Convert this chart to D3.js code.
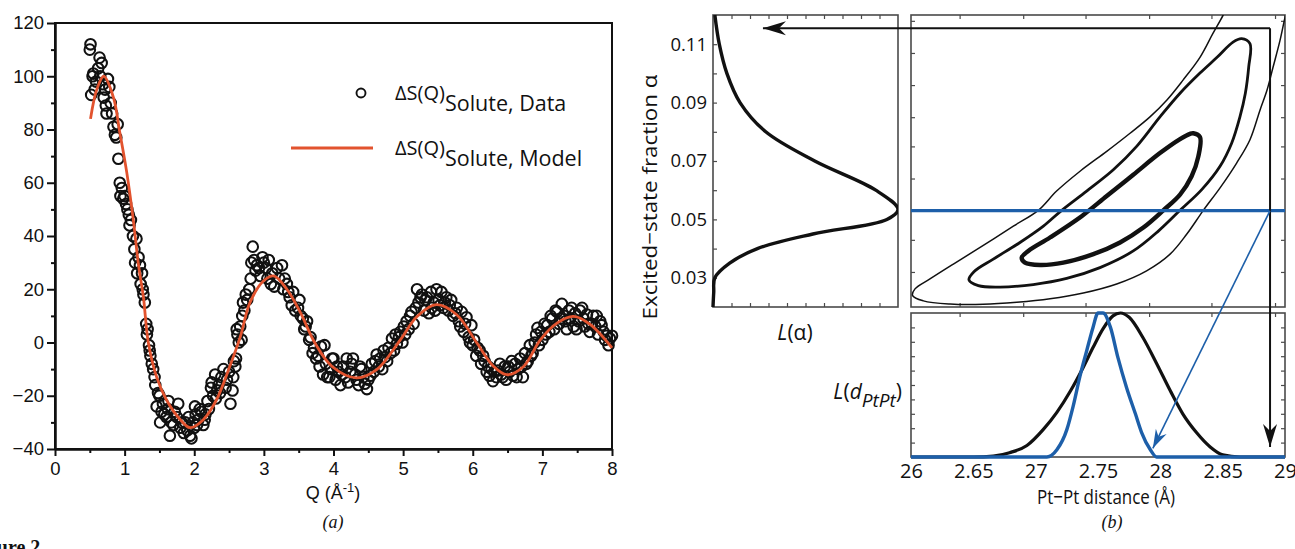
<!DOCTYPE html>
<html>
<head>
<meta charset="utf-8">
<script src="https://cdn.jsdelivr.net/npm/d3@7/dist/d3.min.js"></script>
<style>
  html, body { margin: 0; padding: 0; background: #fff; }
  svg { display: block; }
</style>
</head>
<body>
<svg id="fig" width="1295" height="549"></svg>
<script>
// ---------- (a) solute difference signal ----------
const qTicks = [0, 1, 2, 3, 4, 5, 6, 7, 8];
const qMinorTicks = [0.5, 1.5, 2.5, 3.5, 4.5, 5.5, 6.5, 7.5];
const sTicks = [-40, -20, 0, 20, 40, 60, 80, 100, 120];
const sMinorTicks = [-30, -10, 10, 30, 50, 70, 90, 110];

const modelQ = [0.51, 0.60, 0.70, 0.84, 0.93, 1.03, 1.12, 1.20, 1.27, 1.34, 1.46, 1.60, 1.80, 1.94,
  2.13, 2.32, 2.51, 2.66, 2.80, 2.99, 3.14, 3.33, 3.52, 3.74, 3.98, 4.33, 4.62, 4.96, 5.20, 5.48,
  5.77, 6.06, 6.30, 6.49, 6.73, 6.97, 7.21, 7.45, 7.69, 8.00];
const modelS = [84, 95, 100, 92, 79, 64, 47, 29, 17, 0, -13, -21.5, -29, -32,
  -29, -21.5, -9, 2, 15, 23, 25, 20, 11.5, -0.5, -9, -13.3, -10.2, 1, 9.8, 14.2,
  10.4, -0.2, -9, -12.1, -9, 1, 7.3, 9.8, 6.7, -2];

const dataPoints = [
  [0.50,110],[0.51,112],[0.52,93],[0.54,100],[0.55,101],[0.57,95],[0.59,98],[0.62,103],[0.64,107],[0.65,100],
  [0.67,105],[0.69,97],[0.70,92],[0.72,95],[0.73,89],[0.74,86],[0.76,99],[0.78,96],[0.80,90],[0.82,86],
  [0.84,81],[0.86,78],[0.88,77],[0.90,82],[0.91,69],[0.93,60],[0.94,55],[0.96,58],[0.98,54],[1.00,55],
  [1.02,52],[1.04,50],[1.06,48],[1.07,44],[1.09,46],[1.12,40],[1.14,35],[1.15,30],[1.17,39],[1.18,26],
  [1.20,32],[1.22,29],[1.23,22],[1.25,26],[1.26,20],[1.27,18],[1.29,15],[1.31,7],[1.32,3],[1.33,5],
  [1.35,-1],[1.36,-3],[1.37,-5],[1.39,-8],[1.41,-10],[1.43,-13],[1.44,-16],[1.46,-24],[1.48,-19],[1.50,-20],
  [1.51,-30],[1.53,-26],[1.55,-23],[1.57,-27],[1.60,-28],[1.62,-25],[1.63,-22],[1.65,-35],[1.67,-30],[1.70,-31],
  [1.72,-26],[1.75,-28],[1.77,-23],[1.80,-32],[1.82,-30],[1.85,-34],[1.87,-30],[1.90,-33],[1.92,-28],[1.94,-35],
  [1.96,-36],[1.98,-30],[2.00,-32],[2.01,-24],[2.02,-27],[2.04,-31],[2.06,-29],[2.08,-25],[2.10,-26],[2.13,-31],
  [2.15,-29],[2.16,-27],[2.19,-22],[2.21,-25],[2.24,-17],[2.25,-15],[2.27,-20],[2.30,-12],[2.31,-21],[2.33,-18],
  [2.35,-16],[2.37,-19],[2.39,-13],[2.42,-10],[2.45,-17],[2.47,-14],[2.50,-11],[2.52,-23],[2.55,-18],[2.56,-13],
  [2.57,-7],[2.59,-9],[2.60,-6],[2.61,5],[2.62,3],[2.64,0],[2.66,6],[2.68,1],[2.69,10],[2.70,15],
  [2.72,12],[2.74,18],[2.76,16],[2.79,20],[2.81,24],[2.82,30],[2.84,36],[2.86,31],[2.88,27],[2.90,29],
  [2.93,28],[2.95,25],[2.98,32],[3.00,30],[3.03,28],[3.05,24],[3.07,31],[3.10,22],[3.12,26],[3.15,21],
  [3.19,28],[3.22,24],[3.26,29],[3.28,20],[3.30,24],[3.33,22],[3.35,19],[3.37,17],[3.40,14],[3.42,19],
  [3.45,12],[3.49,13],[3.51,16],[3.53,10],[3.56,9],[3.58,5],[3.60,6],[3.62,8],[3.65,1],[3.67,2],
  [3.70,-4],[3.72,-2],[3.75,-6],[3.78,-5],[3.80,-9],[3.82,-1.5],[3.85,-12],[3.87,-1],[3.89,-8],[3.91,-13],
  [3.94,-13],[3.96,-10],[3.98,-6],[4.00,-6],[4.03,-14],[4.05,-9],[4.07,-11],[4.10,-16],[4.12,-12],[4.14,-9],
  [4.17,-13],[4.19,-6],[4.21,-15],[4.24,-11],[4.26,-8],[4.28,-6],[4.31,-12],[4.33,-14],[4.36,-16],[4.38,-9],
  [4.40,-10],[4.43,-13],[4.45,-15.5],[4.48,-17.5],[4.50,-14],[4.53,-12.5],[4.55,-8],[4.58,-11],[4.60,-7],[4.62,-4.5],
  [4.65,-9],[4.67,-6],[4.70,-10],[4.72,-3],[4.74,-5.5],[4.77,-7],[4.79,-2],[4.82,-4],[4.84,1.5],[4.87,-3],
  [4.89,3],[4.91,-0.5],[4.94,2],[4.96,4],[4.99,0],[5.01,6],[5.03,3],[5.05,8],[5.08,5],[5.10,10],
  [5.12,11.5],[5.15,7],[5.18,13],[5.20,20],[5.22,15],[5.25,17],[5.27,18],[5.30,12],[5.32,16],[5.34,17],
  [5.37,11],[5.40,19],[5.41,13],[5.44,15],[5.46,12],[5.48,20],[5.51,16],[5.53,14],[5.55,19],[5.58,13],
  [5.60,15],[5.62,17],[5.65,12],[5.67,14],[5.69,16],[5.72,10],[5.75,11],[5.77,13],[5.80,8],[5.82,6],
  [5.84,11.5],[5.87,4],[5.89,7],[5.91,9.5],[5.94,2],[5.96,0],[5.98,6.5],[6.00,-1],[6.02,1],[6.05,-5],
  [6.07,-2],[6.10,-3],[6.12,-8],[6.15,-5],[6.17,-7],[6.20,-11],[6.22,-9],[6.24,-12.5],[6.27,-10],[6.29,-14.5],
  [6.31,-11],[6.34,-13],[6.36,-10.5],[6.39,-8],[6.41,-12],[6.43,-13],[6.46,-9],[6.48,-14],[6.51,-9],[6.53,-11],
  [6.56,-7],[6.58,-12.5],[6.61,-8],[6.63,-13],[6.65,-10],[6.68,-6],[6.70,-9],[6.72,-13],[6.75,-4],[6.77,-8],
  [6.79,-7],[6.82,-1],[6.84,-5],[6.86,-4],[6.89,0],[6.91,3],[6.93,5.5],[6.95,-1],[6.98,4],[7.00,1],
  [7.03,7],[7.05,3],[7.07,6.5],[7.10,4],[7.12,10],[7.14,9],[7.17,5],[7.19,12],[7.21,11.5],[7.24,7],
  [7.26,9],[7.28,14.5],[7.31,10],[7.33,8],[7.35,5],[7.38,12],[7.40,9],[7.42,13],[7.45,6],[7.47,11],
  [7.49,5],[7.52,8],[7.54,12],[7.57,13],[7.59,9],[7.61,6],[7.64,10.5],[7.66,7],[7.68,4],[7.71,7],
  [7.73,10],[7.76,6],[7.78,10],[7.80,3],[7.83,8],[7.85,6.5],[7.88,4],[7.90,1],[7.92,2.5],[7.95,-1],
  [7.97,1.5],[8.00,2.5]
];
const legendSubscripts = ["Solute, Data", "Solute, Model"];

// ---------- (b) likelihood maps ----------
const alphaLabelTicks = [0.03, 0.05, 0.07, 0.09, 0.11];
const alphaFrameTicks = [0.03, 0.04, 0.05, 0.06, 0.07, 0.08, 0.09, 0.10, 0.11];
const likelihoodTicks = [0.1, 0.2, 0.3, 0.4, 0.5, 0.6, 0.7, 0.8, 0.9];
const distTickValues = [2.6, 2.65, 2.7, 2.75, 2.8, 2.85, 2.9];
const distTickLabels = ["26", "2.65", "27", "2.75", "28", "2.85", "29"];
const mapDistTicks = [2.639, 2.690, 2.740, 2.791, 2.841, 2.892];
const mapAlphaTicks = [0.118, 0.107, 0.096, 0.085, 0.075, 0.064, 0.053, 0.043, 0.032];

// marginal likelihood of the excited-state fraction
const profileAlpha = [0.020, 0.025, 0.030, 0.035, 0.040, 0.045, 0.050, 0.0534, 0.060, 0.070, 0.080, 0.090, 0.100, 0.110, 0.120];
const profileL     = [0.000, 0.004, 0.010, 0.090, 0.240, 0.540, 0.940, 1.000, 0.880, 0.550, 0.285, 0.146, 0.075, 0.034, 0.010];

// marginal likelihood of the Pt–Pt distance
const distMarginalD = [2.600, 2.650, 2.666, 2.679, 2.693, 2.706, 2.717, 2.728, 2.738, 2.746, 2.754, 2.762, 2.768, 2.775, 2.786, 2.797, 2.808, 2.818, 2.829, 2.840, 2.850, 2.864, 2.900];
const distMarginalL = [0, 0, 0.006, 0.03, 0.08, 0.19, 0.31, 0.46, 0.62, 0.76, 0.89, 0.98, 1.00, 0.97, 0.83, 0.65, 0.46, 0.30, 0.17, 0.07, 0.015, 0, 0];
// likelihood of the distance at the best-fit fraction
const distSliceD = [2.600, 2.700, 2.709, 2.717, 2.725, 2.730, 2.7355, 2.741, 2.746, 2.750, 2.754, 2.760, 2.766, 2.773, 2.780, 2.785, 2.792, 2.797, 2.900];
const distSliceL = [0, 0, 0, 0.05, 0.19, 0.35, 0.56, 0.74, 0.90, 1.00, 1.00, 0.90, 0.69, 0.48, 0.30, 0.17, 0.05, 0, 0];

// joint likelihood contours, [distance, fraction]
const contourInner = [
  [2.8265,0.0795],[2.8318,0.0782],[2.8305,0.0716],[2.8251,0.0648],[2.8158,0.0585],[2.8024,0.0531],
  [2.7864,0.0472],[2.7677,0.0421],[2.7463,0.0381],[2.7222,0.0352],[2.7035,0.0344],[2.6914,0.0352],
  [2.6888,0.0369],[2.6941,0.0392],[2.7115,0.0438],[2.7369,0.0511],[2.7570,0.0580],[2.7783,0.0653],
  [2.7997,0.0727],[2.8158,0.0775],[2.8238,0.0793]
];
const contourMiddle = [
  [2.8652,0.1119],[2.8719,0.1102],[2.8709,0.1022],[2.8682,0.0932],[2.8639,0.0852],[2.8572,0.0761],
  [2.8479,0.0682],[2.8332,0.0602],[2.8158,0.0531],[2.7984,0.0460],[2.7783,0.0392],[2.7516,0.0335],
  [2.7249,0.0298],[2.6981,0.0277],[2.6714,0.0268],[2.6540,0.0273],[2.6465,0.0293],[2.6505,0.0321],
  [2.6660,0.0364],[2.6874,0.0421],[2.7062,0.0477],[2.7209,0.0531],[2.7409,0.0597],[2.7623,0.0670],
  [2.7810,0.0750],[2.7997,0.0851],[2.8158,0.0932],[2.8318,0.1001],[2.8455,0.1055],[2.8583,0.1107]
];
const contourOuter = [
  [2.8545,0.1238],[2.8503,0.1199],[2.8422,0.1137],[2.8318,0.1055],[2.8182,0.0977],[2.8053,0.0909],
  [2.7917,0.0851],[2.7757,0.0795],[2.7570,0.0733],[2.7356,0.0665],[2.7168,0.0597],[2.7021,0.0531],
  [2.6821,0.0477],[2.6580,0.0411],[2.6340,0.0347],[2.6152,0.0296],[2.6032,0.0262],[2.6013,0.0239],
  [2.6099,0.0221],[2.6313,0.0210],[2.6580,0.0209],[2.6848,0.0216],[2.7115,0.0228],[2.7382,0.0248],
  [2.7650,0.0279],[2.7890,0.0324],[2.8078,0.0381],[2.8211,0.0449],[2.8345,0.0531],[2.8479,0.0608],
  [2.8612,0.0693],[2.8719,0.0773],[2.8800,0.0875],[2.8856,0.0943],[2.8904,0.1021],[2.8960,0.1113],
  [2.9000,0.1192],[2.9027,0.1238]
];

// projection guides
const alphaBest = 0.053;
const guideDist = 2.888;
const guideAlpha = 0.1155;
const guideLalpha = 0.27;
const guideLdist = 0.07;
const sliceArrowDist = 2.794;
const sliceArrowL = 0.06;

// ---------- drawing ----------
const svg = d3.select("#fig");
const FONT_A = "'Liberation Sans', Arial, sans-serif";
const FONT_B = "'Open Sans', 'Noto Sans', sans-serif";
const RED = "#e2532e";
const BLUE = "#1d5fa9";
const FRAME = "#4a4a4a";

const defs = svg.append("defs");
defs.append("marker").attr("id", "headBlack")
  .attr("viewBox", "-25 -8 26 16").attr("refX", 0).attr("refY", 0)
  .attr("markerWidth", 26).attr("markerHeight", 16)
  .attr("markerUnits", "userSpaceOnUse").attr("orient", "auto")
  .append("path").attr("d", "M0,0 L-23,-7 L-16,0 L-23,7 Z").attr("fill", "#111");
defs.append("marker").attr("id", "headBlue")
  .attr("viewBox", "-20 -7 21 14").attr("refX", 0).attr("refY", 0)
  .attr("markerWidth", 21).attr("markerHeight", 14)
  .attr("markerUnits", "userSpaceOnUse").attr("orient", "auto")
  .append("path").attr("d", "M0,0 L-19,-6 L-13,0 L-19,6 Z").attr("fill", BLUE);

// ===== panel (a) =====
const xA = d3.scaleLinear().domain([0, 8]).range([55, 612]);
const yA = d3.scaleLinear().domain([-40, 120]).range([449, 23]);
const gA = svg.append("g");

gA.append("rect")
  .attr("x", xA(0)).attr("y", yA(120))
  .attr("width", xA(8) - xA(0)).attr("height", yA(-40) - yA(120))
  .attr("fill", "none").attr("stroke", "#111").attr("stroke-width", 2);

function styleA(g) {
  g.select(".domain").attr("stroke", "#111").attr("stroke-width", 2);
  g.selectAll(".tick line").attr("stroke", "#111").attr("stroke-width", 2);
  g.selectAll(".tick text").attr("fill", "#111").attr("font-size", 18.5).attr("font-family", FONT_A);
}
gA.append("g").attr("transform", `translate(${xA(0)},0)`)
  .call(d3.axisLeft(yA).tickValues(sMinorTicks).tickSize(4).tickSizeOuter(0).tickFormat(""))
  .call(styleA);
gA.append("g").attr("transform", `translate(${xA(0)},0)`)
  .call(d3.axisLeft(yA).tickValues(sTicks).tickSize(8).tickSizeOuter(0).tickPadding(3))
  .call(styleA);
gA.append("g").attr("transform", `translate(0,${yA(-40)})`)
  .call(d3.axisBottom(xA).tickValues(qMinorTicks).tickSize(4).tickSizeOuter(0).tickFormat(""))
  .call(styleA);
gA.append("g").attr("transform", `translate(0,${yA(-40)})`)
  .call(d3.axisBottom(xA).tickValues(qTicks).tickSize(7).tickSizeOuter(0).tickPadding(6))
  .call(styleA);

// measured points
gA.append("g").selectAll("circle").data(dataPoints).join("circle")
  .attr("cx", d => xA(d[0])).attr("cy", d => yA(d[1])).attr("r", 5.3)
  .attr("fill", "none").attr("stroke", "#111").attr("stroke-width", 2.05);

// model curve
const modelLine = d3.line().x(d => xA(d[0])).y(d => yA(d[1])).curve(d3.curveCatmullRom.alpha(0.5));
gA.append("path").datum(modelQ.map((q, i) => [q, modelS[i]]))
  .attr("d", modelLine).attr("fill", "none").attr("stroke", RED).attr("stroke-width", 2.8);

// legend
gA.append("circle").attr("cx", 361).attr("cy", 93).attr("r", 4.5)
  .attr("fill", "none").attr("stroke", "#111").attr("stroke-width", 1.9);
gA.append("line").attr("x1", 291).attr("x2", 373).attr("y1", 148).attr("y2", 148)
  .attr("stroke", RED).attr("stroke-width", 2.8);
[[100, legendSubscripts[0]], [155, legendSubscripts[1]]].forEach(([y, sub]) => {
  const t = gA.append("text").attr("x", 395).attr("y", y)
    .attr("font-family", FONT_B).attr("fill", "#111");
  t.append("tspan").attr("font-size", 20).text("ΔS(Q)");
  t.append("tspan").attr("font-size", 21.5).attr("dy", 11).text(sub);
});

// axis title
const qTitle = gA.append("text").attr("x", 333).attr("y", 499).attr("text-anchor", "middle")
  .attr("font-family", FONT_A).attr("font-size", 18).attr("fill", "#111");
qTitle.append("tspan").text("Q  (Å");
qTitle.append("tspan").attr("font-size", 13).attr("dy", -7).text("-1");
qTitle.append("tspan").attr("dy", 7).text(")");

gA.append("text").attr("x", 333).attr("y", 528).attr("text-anchor", "middle")
  .attr("font-family", "'Liberation Serif', 'Times New Roman', serif").attr("font-style", "italic")
  .attr("font-size", 18).attr("fill", "#111").text("(a)");

svg.append("text").attr("x", -31).attr("y", 554)
  .attr("font-family", "'Liberation Serif', 'Times New Roman', serif").attr("font-weight", "bold")
  .attr("font-size", 20).attr("fill", "#111").text("Figure 2");

// ===== panel (b) =====
const yAlpha = d3.scaleLinear().domain([0.02, 0.12]).range([307, 15]);
const xLalpha = d3.scaleLinear().domain([0, 1]).range([713, 898]);
const xDist = d3.scaleLinear().domain([2.6, 2.9]).range([911, 1285]);
const yLdist = d3.scaleLinear().domain([0, 1]).range([457, 313]);
const gB = svg.append("g");

function styleFrameTicks(g) {
  g.select(".domain").remove();
  g.selectAll(".tick line").attr("stroke", FRAME).attr("stroke-width", 1.2);
}
function frame(x0, x1, y0, y1) {
  gB.append("rect").attr("x", x0).attr("y", y0).attr("width", x1 - x0).attr("height", y1 - y0)
    .attr("fill", "none").attr("stroke", FRAME).attr("stroke-width", 1.6);
}

// clip regions
defs.append("clipPath").attr("id", "clipMap").append("rect")
  .attr("x", xDist(2.6)).attr("y", yAlpha(0.12)).attr("width", xDist(2.9) - xDist(2.6)).attr("height", yAlpha(0.02) - yAlpha(0.12));
defs.append("clipPath").attr("id", "clipAlpha").append("rect")
  .attr("x", xLalpha(0) - 2).attr("y", yAlpha(0.12)).attr("width", xLalpha(1) - xLalpha(0) + 2).attr("height", yAlpha(0.02) - yAlpha(0.12));

// L(alpha) panel
frame(xLalpha(0), xLalpha(1), yAlpha(0.12), yAlpha(0.02));
gB.append("g").attr("transform", `translate(${xLalpha(0)},0)`)
  .call(d3.axisLeft(yAlpha).tickValues(alphaFrameTicks).tickSize(-4).tickFormat("")).call(styleFrameTicks);
gB.append("g").attr("transform", `translate(0,${yAlpha(0.12)})`)
  .call(d3.axisTop(xLalpha).tickValues(likelihoodTicks).tickSize(-4).tickFormat("")).call(styleFrameTicks);
gB.append("g").attr("transform", `translate(0,${yAlpha(0.02)})`)
  .call(d3.axisBottom(xLalpha).tickValues(likelihoodTicks).tickSize(-4).tickFormat("")).call(styleFrameTicks);
gB.append("g").attr("transform", `translate(${xLalpha(0)},0)`)
  .call(d3.axisLeft(yAlpha).tickValues(alphaLabelTicks).tickSize(0).tickPadding(6).tickFormat(d3.format(".2f")))
  .call(g => g.select(".domain").remove())
  .call(g => g.selectAll("text").attr("font-family", FONT_B).attr("font-size", 18.5).attr("fill", "#111"));

const profileLine = d3.line().x(d => xLalpha(d[1])).y(d => yAlpha(d[0])).curve(d3.curveCatmullRom.alpha(0.5));
gB.append("path").datum(profileAlpha.map((a, i) => [a, profileL[i]]))
  .attr("clip-path", "url(#clipAlpha)")
  .attr("d", profileLine).attr("fill", "none").attr("stroke", "#111").attr("stroke-width", 3.4);

// joint map panel
frame(xDist(2.6), xDist(2.9), yAlpha(0.12), yAlpha(0.02));
gB.append("g").attr("transform", `translate(${xDist(2.6)},0)`)
  .call(d3.axisLeft(yAlpha).tickValues(mapAlphaTicks).tickSize(-4).tickFormat("")).call(styleFrameTicks);
gB.append("g").attr("transform", `translate(${xDist(2.9)},0)`)
  .call(d3.axisRight(yAlpha).tickValues(mapAlphaTicks).tickSize(-4).tickFormat("")).call(styleFrameTicks);
gB.append("g").attr("transform", `translate(0,${yAlpha(0.12)})`)
  .call(d3.axisTop(xDist).tickValues(mapDistTicks).tickSize(-4).tickFormat("")).call(styleFrameTicks);
gB.append("g").attr("transform", `translate(0,${yAlpha(0.02)})`)
  .call(d3.axisBottom(xDist).tickValues(mapDistTicks).tickSize(-4).tickFormat("")).call(styleFrameTicks);

const mapClosed = d3.line().x(d => xDist(d[0])).y(d => yAlpha(d[1])).curve(d3.curveCatmullRomClosed.alpha(0.5));
const mapOpen = d3.line().x(d => xDist(d[0])).y(d => yAlpha(d[1])).curve(d3.curveCatmullRom.alpha(0.5));
const gMap = gB.append("g").attr("clip-path", "url(#clipMap)");
gMap.append("path").datum(contourOuter).attr("d", mapOpen)
  .attr("fill", "none").attr("stroke", "#111").attr("stroke-width", 1.5);
gMap.append("path").datum(contourMiddle).attr("d", mapClosed)
  .attr("fill", "none").attr("stroke", "#111").attr("stroke-width", 2.8);
gMap.append("path").datum(contourInner).attr("d", mapClosed)
  .attr("fill", "none").attr("stroke", "#111").attr("stroke-width", 4.4);

// distance panel
frame(xDist(2.6), xDist(2.9), yLdist(1), yLdist(0));
gB.append("g").attr("transform", `translate(${xDist(2.6)},0)`)
  .call(d3.axisLeft(yLdist).tickValues(likelihoodTicks).tickSize(-4).tickFormat("")).call(styleFrameTicks);
gB.append("g").attr("transform", `translate(${xDist(2.9)},0)`)
  .call(d3.axisRight(yLdist).tickValues(likelihoodTicks).tickSize(-4).tickFormat("")).call(styleFrameTicks);
gB.append("g").attr("transform", `translate(0,${yLdist(1)})`)
  .call(d3.axisTop(xDist).tickValues(mapDistTicks).tickSize(-4).tickFormat("")).call(styleFrameTicks);
gB.append("g").attr("transform", `translate(0,${yLdist(0)})`)
  .call(d3.axisBottom(xDist).tickValues(distTickValues).tickSize(0).tickPadding(7)
    .tickFormat((d, i) => distTickLabels[i]))
  .call(g => g.select(".domain").remove())
  .call(g => g.selectAll("text").attr("font-family", FONT_B).attr("font-size", 20).attr("fill", "#111"));

const distLine = d3.line().x(d => xDist(d[0])).y(d => yLdist(d[1])).curve(d3.curveMonotoneX);
gB.append("path").datum(distMarginalD.map((d, i) => [d, distMarginalL[i]]))
  .attr("d", distLine).attr("fill", "none").attr("stroke", "#111").attr("stroke-width", 3.2);
gB.append("path").datum(distSliceD.map((d, i) => [d, distSliceL[i]]))
  .attr("d", distLine).attr("fill", "none").attr("stroke", BLUE).attr("stroke-width", 3.4);

// best-fit fraction and projection guides
gB.append("line")
  .attr("x1", xDist(2.6)).attr("x2", xDist(2.9))
  .attr("y1", yAlpha(alphaBest)).attr("y2", yAlpha(alphaBest))
  .attr("stroke", BLUE).attr("stroke-width", 3.4);
gB.append("path")
  .attr("d", `M${xDist(guideDist)},${yAlpha(guideAlpha)}H${xLalpha(guideLalpha)}`)
  .attr("fill", "none").attr("stroke", "#111").attr("stroke-width", 2).attr("marker-end", "url(#headBlack)");
gB.append("path")
  .attr("d", `M${xDist(guideDist)},${yAlpha(guideAlpha)}V${yLdist(guideLdist)}`)
  .attr("fill", "none").attr("stroke", "#111").attr("stroke-width", 2).attr("marker-end", "url(#headBlack)");
gB.append("path")
  .attr("d", `M${xDist(guideDist)},${yAlpha(alphaBest)}L${xDist(sliceArrowDist)},${yLdist(sliceArrowL)}`)
  .attr("fill", "none").attr("stroke", BLUE).attr("stroke-width", 1.6).attr("marker-end", "url(#headBlue)");

// labels
gB.append("text")
  .attr("transform", `translate(657,${(yAlpha(0.12) + yAlpha(0.02)) / 2 + 36}) rotate(-90)`)
  .attr("text-anchor", "middle").attr("font-family", FONT_B).attr("font-size", 20)
  .attr("textLength", 245).attr("lengthAdjust", "spacingAndGlyphs")
  .attr("fill", "#111").text("Excited\u2212state fraction \u03b1");

const lA = gB.append("text").attr("x", 795).attr("y", 340).attr("text-anchor", "middle")
  .attr("font-family", FONT_B).attr("font-size", 21).attr("fill", "#111");
lA.append("tspan").attr("font-style", "italic").text("L");
lA.append("tspan").text("(\u03b1)");

const lD = gB.append("text").attr("x", 902).attr("y", 399).attr("text-anchor", "end")
  .attr("font-family", FONT_B).attr("font-size", 21).attr("fill", "#111");
lD.append("tspan").attr("font-style", "italic").text("L");
lD.append("tspan").text("(");
lD.append("tspan").attr("font-style", "italic").text("d");
lD.append("tspan").attr("font-style", "italic").attr("font-size", 19).attr("dy", 8).text("PtPt");
lD.append("tspan").attr("dy", -8).text(")");

gB.append("text").attr("x", 1106).attr("y", 504).attr("text-anchor", "middle")
  .attr("font-family", FONT_B).attr("font-size", 20)
  .attr("textLength", 138).attr("lengthAdjust", "spacingAndGlyphs")
  .attr("fill", "#111").text("Pt\u2212Pt distance (\u00c5)");

gB.append("text").attr("x", 1112).attr("y", 528).attr("text-anchor", "middle")
  .attr("font-family", "'Liberation Serif', 'Times New Roman', serif").attr("font-style", "italic")
  .attr("font-size", 18).attr("fill", "#111").text("(b)");
</script>
</body>
</html>
